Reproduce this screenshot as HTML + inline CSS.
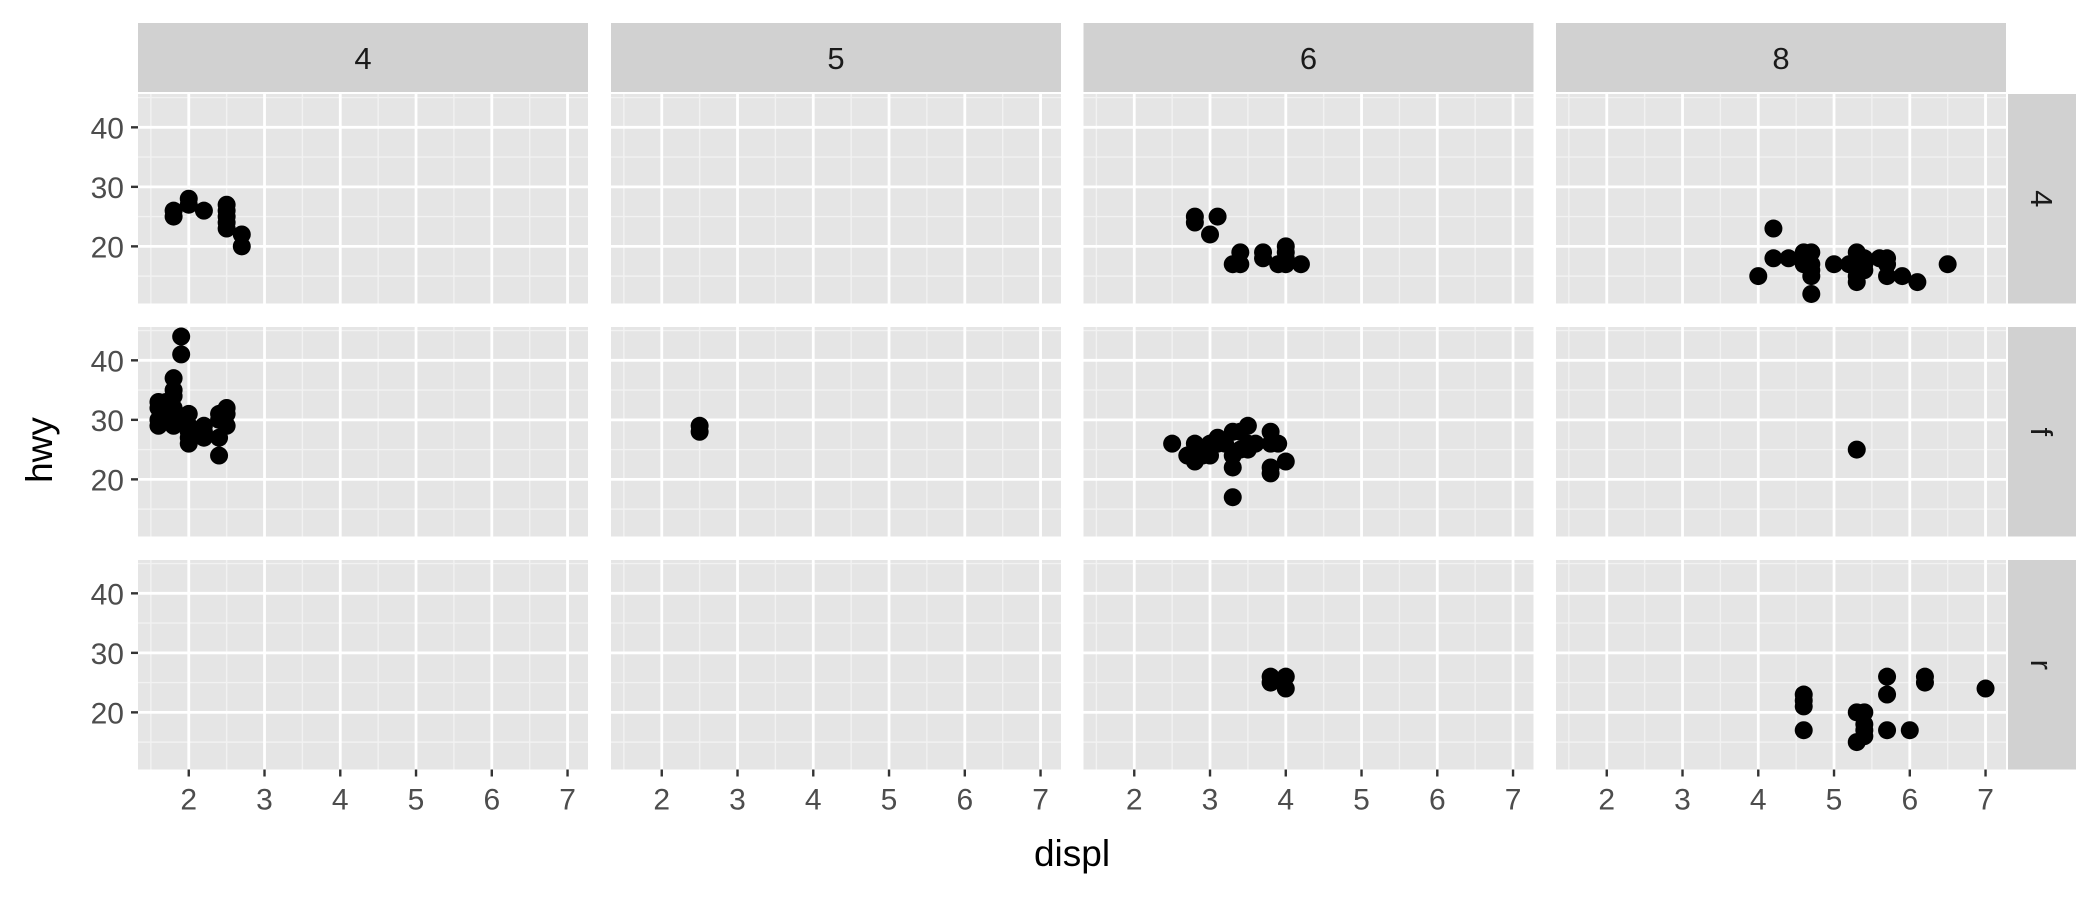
<!DOCTYPE html>
<html><head><meta charset="utf-8"><style>
body{margin:0;background:#fff;}
svg{display:block;font-family:"Liberation Sans",Arial,sans-serif;}
</style></head><body>
<svg id="chart" width="2100" height="900" viewBox="0 0 2100 900" xmlns="http://www.w3.org/2000/svg">
<text x="1072" y="866" font-size="37" text-anchor="middle" fill="#000">displ</text>
<text transform="translate(52,450) rotate(-90)" font-size="37" text-anchor="middle" fill="#000">hwy</text>
</svg>
<script>
const cylLevels = ["4","5","6","8"];
const drvLevels = ["4","f","r"];
const xTicks = [2,3,4,5,6,7];
const yTicks = [20,30,40];
const displ_4_4 = [1.8,1.8,2.0,2.0,2.2,2.5,2.5,2.5,2.5,2.5,2.7,2.7];
const hwy_4_4   = [25,26,28,27,26,26,25,27,24,23,22,20];
const displ_4_f = [1.6,1.6,1.6,1.8,1.8,1.8,1.8,1.8,1.8,1.9,1.9,2.0,2.0,2.0,2.0,2.2,2.2,2.4,2.4,2.4,2.5,2.5,2.4,2.2,2.1,2.0,1.7,1.6,1.8,2.5];
const hwy_4_f   = [33,32,29,29,31,30,35,37,34,44,41,31,28,26,29,27,29,24,27,31,32,29,30,28,28,27,33,30,32,31];
const displ_5_f = [2.5,2.5];
const hwy_5_f   = [28,29];
const displ_6_4 = [2.8,2.8,3.0,3.1,3.3,3.4,3.4,3.7,3.7,3.9,4.0,4.0,4.0,4.0,4.2];
const hwy_6_4   = [24,25,22,25,17,17,19,19,18,17,17,19,20,18,17];
const displ_6_f = [2.5,2.7,2.8,2.8,2.8,3.0,3.0,3.1,3.1,3.3,3.3,3.3,3.3,3.4,3.5,3.5,3.5,3.6,3.8,3.8,3.8,3.8,4.0,3.9,3.4,3.2,2.9];
const hwy_6_f   = [26,24,23,25,26,26,24,27,26,28,22,24,17,28,29,26,25,26,28,26,22,21,23,26,25,26,24];
const displ_6_r = [3.8,3.8,4.0,4.0];
const hwy_6_r   = [25,26,24,26];
const displ_8_4 = [4.0,4.2,4.2,4.4,4.6,4.6,4.6,4.7,4.7,4.7,4.7,4.7,5.0,5.2,5.3,5.3,5.3,5.4,5.4,5.3,5.4,5.6,5.7,5.7,5.7,5.9,6.1,6.5];
const hwy_8_4   = [15,23,18,18,19,18,17,19,17,16,15,12,17,17,16,15,19,17,16,14,18,18,17,15,18,15,14,17];
const displ_8_f = [5.3];
const hwy_8_f   = [25];
const displ_8_r = [4.6,4.6,4.6,4.6,5.3,5.3,5.4,5.4,5.4,5.4,5.7,5.7,5.7,6.0,6.2,6.2,7.0];
const hwy_8_r   = [17,21,22,23,15,20,16,17,18,20,17,23,26,17,25,26,24];

const facetData = {
 "4|4":[displ_4_4,hwy_4_4],"4|f":[displ_4_f,hwy_4_f],
 "5|f":[displ_5_f,hwy_5_f],
 "6|4":[displ_6_4,hwy_6_4],"6|f":[displ_6_f,hwy_6_f],"6|r":[displ_6_r,hwy_6_r],
 "8|4":[displ_8_4,hwy_8_4],"8|f":[displ_8_f,hwy_8_f],"8|r":[displ_8_r,hwy_8_r]
};

const NS="http://www.w3.org/2000/svg";
const svg=document.getElementById("chart");
const XMIN=1.33,XMAX=7.27,YMIN=10.4,YMAX=45.6;
const PW=450,PH=209.5;
const panelX=[138,611,1083.5,1556];
const panelY=[94,327,560];
function mk(tag,attrs,parent){const e=document.createElementNS(NS,tag);for(const k in attrs)e.setAttribute(k,attrs[k]);(parent||svg).appendChild(e);return e;}
function sx(c,v){return panelX[c]+(v-XMIN)/(XMAX-XMIN)*PW;}
function sy(r,v){return panelY[r]+PH-(v-YMIN)/(YMAX-YMIN)*PH;}

cylLevels.forEach((cyl,c)=>{
  const s=mk("rect",{x:panelX[c],y:23,width:PW,height:69,fill:"#d1d1d1"});
  
  
  const t=mk("text",{x:panelX[c]+PW/2,y:69,"font-size":31,"text-anchor":"middle",fill:"#1a1a1a"});
  t.textContent=cyl;
  
  
});
drvLevels.forEach((drv,r)=>{
  const s=mk("rect",{x:2008,y:panelY[r],width:68,height:PH,fill:"#d1d1d1"});
  
  
  const t=mk("text",{transform:`translate(2031,${panelY[r]+PH/2}) rotate(90)`,"font-size":31,"text-anchor":"middle",fill:"#1a1a1a"});
  t.textContent=drv;
  
  
});

for(let r=0;r<3;r++){
  for(let c=0;c<4;c++){
    const g=mk("g",{});
    
    
    mk("rect",{x:panelX[c],y:panelY[r],width:PW,height:PH,fill:"#e5e5e5"},g);
    for(let v=1.5;v<XMAX;v+=1){mk("line",{x1:sx(c,v),x2:sx(c,v),y1:panelY[r],y2:panelY[r]+PH,stroke:"#f2f2f2","stroke-width":1.4},g);}
    for(let v=15;v<YMAX;v+=10){mk("line",{x1:panelX[c],x2:panelX[c]+PW,y1:sy(r,v),y2:sy(r,v),stroke:"#f2f2f2","stroke-width":1.4},g);}
    xTicks.forEach(v=>mk("line",{x1:sx(c,v),x2:sx(c,v),y1:panelY[r],y2:panelY[r]+PH,stroke:"#fff","stroke-width":2.8},g));
    yTicks.forEach(v=>mk("line",{x1:panelX[c],x2:panelX[c]+PW,y1:sy(r,v),y2:sy(r,v),stroke:"#fff","stroke-width":2.8},g));
    const d=facetData[cylLevels[c]+"|"+drvLevels[r]];
    if(d){
      d[0].forEach((x,i)=>{
        const p=mk("circle",{cx:sx(c,x),cy:sy(r,d[1][i]),r:9,fill:"#000"},g);
        
        
      });
    }
  }
  yTicks.forEach(v=>{
    mk("line",{x1:131,x2:138,y1:sy(r,v),y2:sy(r,v),stroke:"#333","stroke-width":2.4});
    const t=mk("text",{x:124,y:sy(r,v)+11,"font-size":30,"text-anchor":"end",fill:"#4d4d4d"});
    t.textContent=v;
    
    
  });
}
for(let c=0;c<4;c++){
  xTicks.forEach(v=>{
    const yb=panelY[2]+PH;
    mk("line",{x1:sx(c,v),x2:sx(c,v),y1:yb,y2:yb+7,stroke:"#333","stroke-width":2.4});
    const t=mk("text",{x:sx(c,v),y:yb+40,"font-size":30,"text-anchor":"middle",fill:"#4d4d4d"});
    t.textContent=v;
    
    
  });
}
</script>
</body></html>
